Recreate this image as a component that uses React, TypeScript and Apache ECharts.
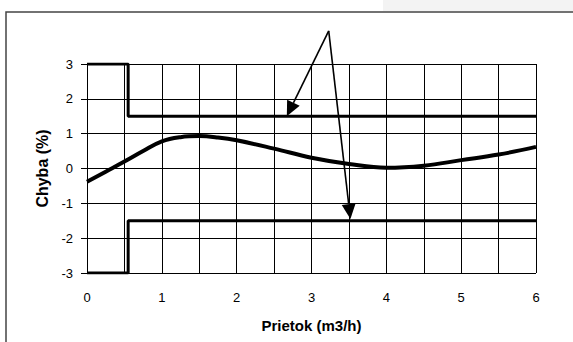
import React, { useEffect, useRef } from "react";
import * as echarts from "echarts";

const xTicks = [0, 1, 2, 3, 4, 5, 6];
const yTicks = [-3, -2, -1, 0, 1, 2, 3];

const errorX = [0, 0.25, 0.5, 0.75, 1, 1.25, 1.5, 1.75, 2, 2.5, 3, 3.5, 4, 4.5, 5, 5.5, 6];
const errorY = [-0.38, -0.09, 0.2, 0.5, 0.78, 0.9, 0.93, 0.89, 0.81, 0.57, 0.31, 0.13, 0.02, 0.08, 0.24, 0.4, 0.62];

const upperX = [0, 0.55, 0.55, 6];
const upperY = [3, 3, 1.5, 1.5];
const lowerX = [0, 0.55, 0.55, 6];
const lowerY = [-3, -3, -1.5, -1.5];

// arrows: [fromX, fromY, toX, toY]
const arrowFrom = [3.23, 3.95];
const arrowTargets = [
  [2.67, 1.5],
  [3.52, -1.45],
];

const FONT = "'Liberation Sans', Arial, sans-serif";

export default function App() {
  const ref = useRef<HTMLDivElement>(null);

  useEffect(() => {
    if (!ref.current) return;
    const chart = echarts.init(ref.current, null, { renderer: "svg" });

    const arrowData = arrowTargets.map((t) => [arrowFrom[0], arrowFrom[1], t[0], t[1]]);

    chart.setOption({
      animation: false,
      backgroundColor: "#ffffff",
      graphic: [
        {
          type: "rect",
          shape: { x: 383, y: 0, width: 200, height: 11 },
          style: { fill: "#f3f3f3" },
          silent: true,
          z: -10,
        },
        {
          type: "polyline",
          shape: { points: [[6, 360], [6, 12], [600, 12]] },
          style: { fill: "none", stroke: "#444", lineWidth: 1.5 },
          silent: true,
          z: -10,
        },
      ],
      grid: { left: 87, right: 37, top: 64, bottom: 69, containLabel: false },
      xAxis: {
        type: "value",
        min: 0,
        max: 6,
        interval: 1,
        name: "Prietok (m3/h)",
        nameLocation: "middle",
        nameGap: 45,
        nameTextStyle: { fontFamily: FONT, fontWeight: "bold", fontSize: 15, color: "#000" },
        axisLine: { show: true, lineStyle: { color: "#000", width: 1 } },
        axisTick: { show: true, length: 5, lineStyle: { color: "#000" } },
        axisLabel: {
          margin: 18,
          fontFamily: FONT,
          fontSize: 13,
          color: "#000",
          formatter: (v: number) => (xTicks.includes(v) ? String(v) : ""),
        },
        splitLine: { show: true, lineStyle: { color: "#000", width: 1 } },
        minorTick: { show: false, splitNumber: 2 },
        minorSplitLine: { show: true, lineStyle: { color: "#000", width: 1 } },
      },
      yAxis: {
        type: "value",
        min: -3,
        max: 3,
        interval: 1,
        name: "Chyba (%)",
        nameLocation: "middle",
        nameGap: 36,
        nameTextStyle: { fontFamily: FONT, fontWeight: "bold", fontSize: 16, color: "#000" },
        axisLine: { show: true, lineStyle: { color: "#000", width: 1 } },
        axisTick: { show: true, length: 6, lineStyle: { color: "#000" } },
        axisLabel: {
          margin: 14,
          fontFamily: FONT,
          fontSize: 13,
          color: "#000",
          formatter: (v: number) => (yTicks.includes(v) ? String(v) : ""),
        },
        splitLine: { show: true, lineStyle: { color: "#000", width: 1 } },
      },
      series: [
        {
          type: "line",
          data: upperX.map((x, i) => [x, upperY[i]]),
          showSymbol: false,
          lineStyle: { color: "#000", width: 3 },
          z: 3,
        },
        {
          type: "line",
          data: lowerX.map((x, i) => [x, lowerY[i]]),
          showSymbol: false,
          lineStyle: { color: "#000", width: 3 },
          z: 3,
        },
        {
          type: "line",
          data: errorX.map((x, i) => [x, errorY[i]]),
          smooth: 0.4,
          showSymbol: false,
          lineStyle: { color: "#000", width: 4 },
          z: 4,
        },
        {
          type: "custom",
          data: arrowData,
          clip: false,
          z: 5,
          renderItem: (params: any, api: any) => {
            const s = api.coord([api.value(0), api.value(1)]);
            const e = api.coord([api.value(2), api.value(3)]);
            const dx = e[0] - s[0];
            const dy = e[1] - s[1];
            const len = Math.sqrt(dx * dx + dy * dy);
            const ux = dx / len;
            const uy = dy / len;
            const headLen = 15;
            const headHalf = 7;
            const bx = e[0] - ux * headLen;
            const by = e[1] - uy * headLen;
            const px = -uy;
            const py = ux;
            return {
              type: "group",
              children: [
                {
                  type: "line",
                  shape: { x1: s[0], y1: s[1], x2: bx, y2: by },
                  style: { stroke: "#000", lineWidth: 1.6 },
                },
                {
                  type: "polygon",
                  shape: {
                    points: [
                      [e[0], e[1]],
                      [bx + px * headHalf, by + py * headHalf],
                      [bx - px * headHalf, by - py * headHalf],
                    ],
                  },
                  style: { fill: "#000" },
                },
              ],
            };
          },
        },
      ],
    });

    return () => chart.dispose();
  }, []);

  return (
    <div
      ref={ref}
      style={{ position: "absolute", left: 0, top: 0, width: 573, height: 342 }}
    />
  );
}
